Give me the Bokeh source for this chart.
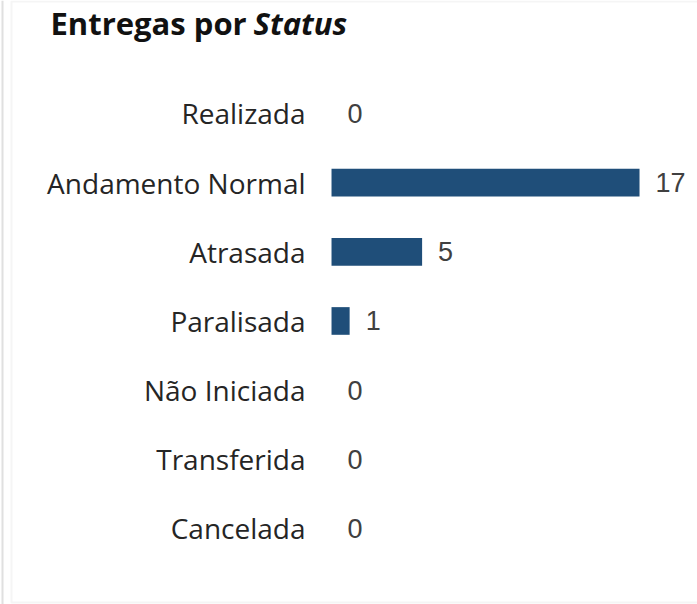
from bokeh.plotting import figure
from bokeh.models import FactorRange, Range1d, Label, BoxAnnotation, ColumnDataSource
from bokeh.transform import dodge
from bokeh.core.properties import value
from bokeh.embed import file_html
from bokeh.resources import INLINE

categories = ["Realizada", "Andamento Normal", "Atrasada", "Paralisada",
              "Não Iniciada", "Transferida", "Cancelada"]
counts = [0, 17, 5, 1, 0, 0, 0]
title_main = "Entregas por "
title_em = "Status"

factors = list(reversed(categories))
src = ColumnDataSource(dict(cat=categories, n=counts, zero=[0] * len(counts),
                            lab=[str(c) for c in counts]))

yr = FactorRange(factors=factors, range_padding=0.866, range_padding_units="absolute")
p = figure(width=697, height=604, output_backend="svg", toolbar_location=None,
           y_range=yr, x_range=Range1d(-18.27, 20.2),
           min_border_left=0, min_border_right=0, min_border_top=0, min_border_bottom=0,
           margin=(0, 0, 0, 0))
p.outline_line_color = None
p.grid.visible = False
p.axis.visible = False
p.background_fill_color = "white"
p.border_fill_color = "white"

ycat = dodge("cat", -0.267, range=yr)

p.hbar(y=ycat, right="n", left=0, height=0.4, source=src,
       fill_color="#1F4E79", line_color=None)
p.text(x="n", y=ycat, text="lab", source=src, x_offset=16, text_baseline="middle",
       text_align="left", text_font=value("Liberation Sans"), text_font_size="27px",
       text_color="#404040")
p.text(x="zero", y=ycat, text="cat", source=src, x_offset=-26, text_baseline="middle",
       text_align="right", text_font=value("Open Sans"), text_font_size="28px",
       text_color="#252525")

p.add_layout(Label(x=50, y=22, x_units="canvas", y_units="canvas", text=title_main,
                   text_font="Open Sans", text_font_style="bold", text_font_size="31px",
                   text_color="#111111", text_baseline="alphabetic"))
p.add_layout(Label(x=253, y=22, x_units="canvas", y_units="canvas", text=title_em,
                   text_font="Open Sans", text_font_style="bold italic", text_font_size="31px",
                   text_color="#111111", text_baseline="alphabetic"))

p.add_layout(BoxAnnotation(left=1, right=3, top=0, bottom=604, left_units="canvas",
                           right_units="canvas", top_units="canvas", bottom_units="canvas",
                           fill_color="#e0e0e0", fill_alpha=1, line_color=None, level="overlay"))
p.add_layout(BoxAnnotation(left=11, right=710, top=1, bottom=602, left_units="canvas",
                           right_units="canvas", top_units="canvas", bottom_units="canvas",
                           fill_alpha=0, line_color="#dedede", line_width=2, level="overlay"))

open("out.html", "w").write(file_html(p, INLINE))
